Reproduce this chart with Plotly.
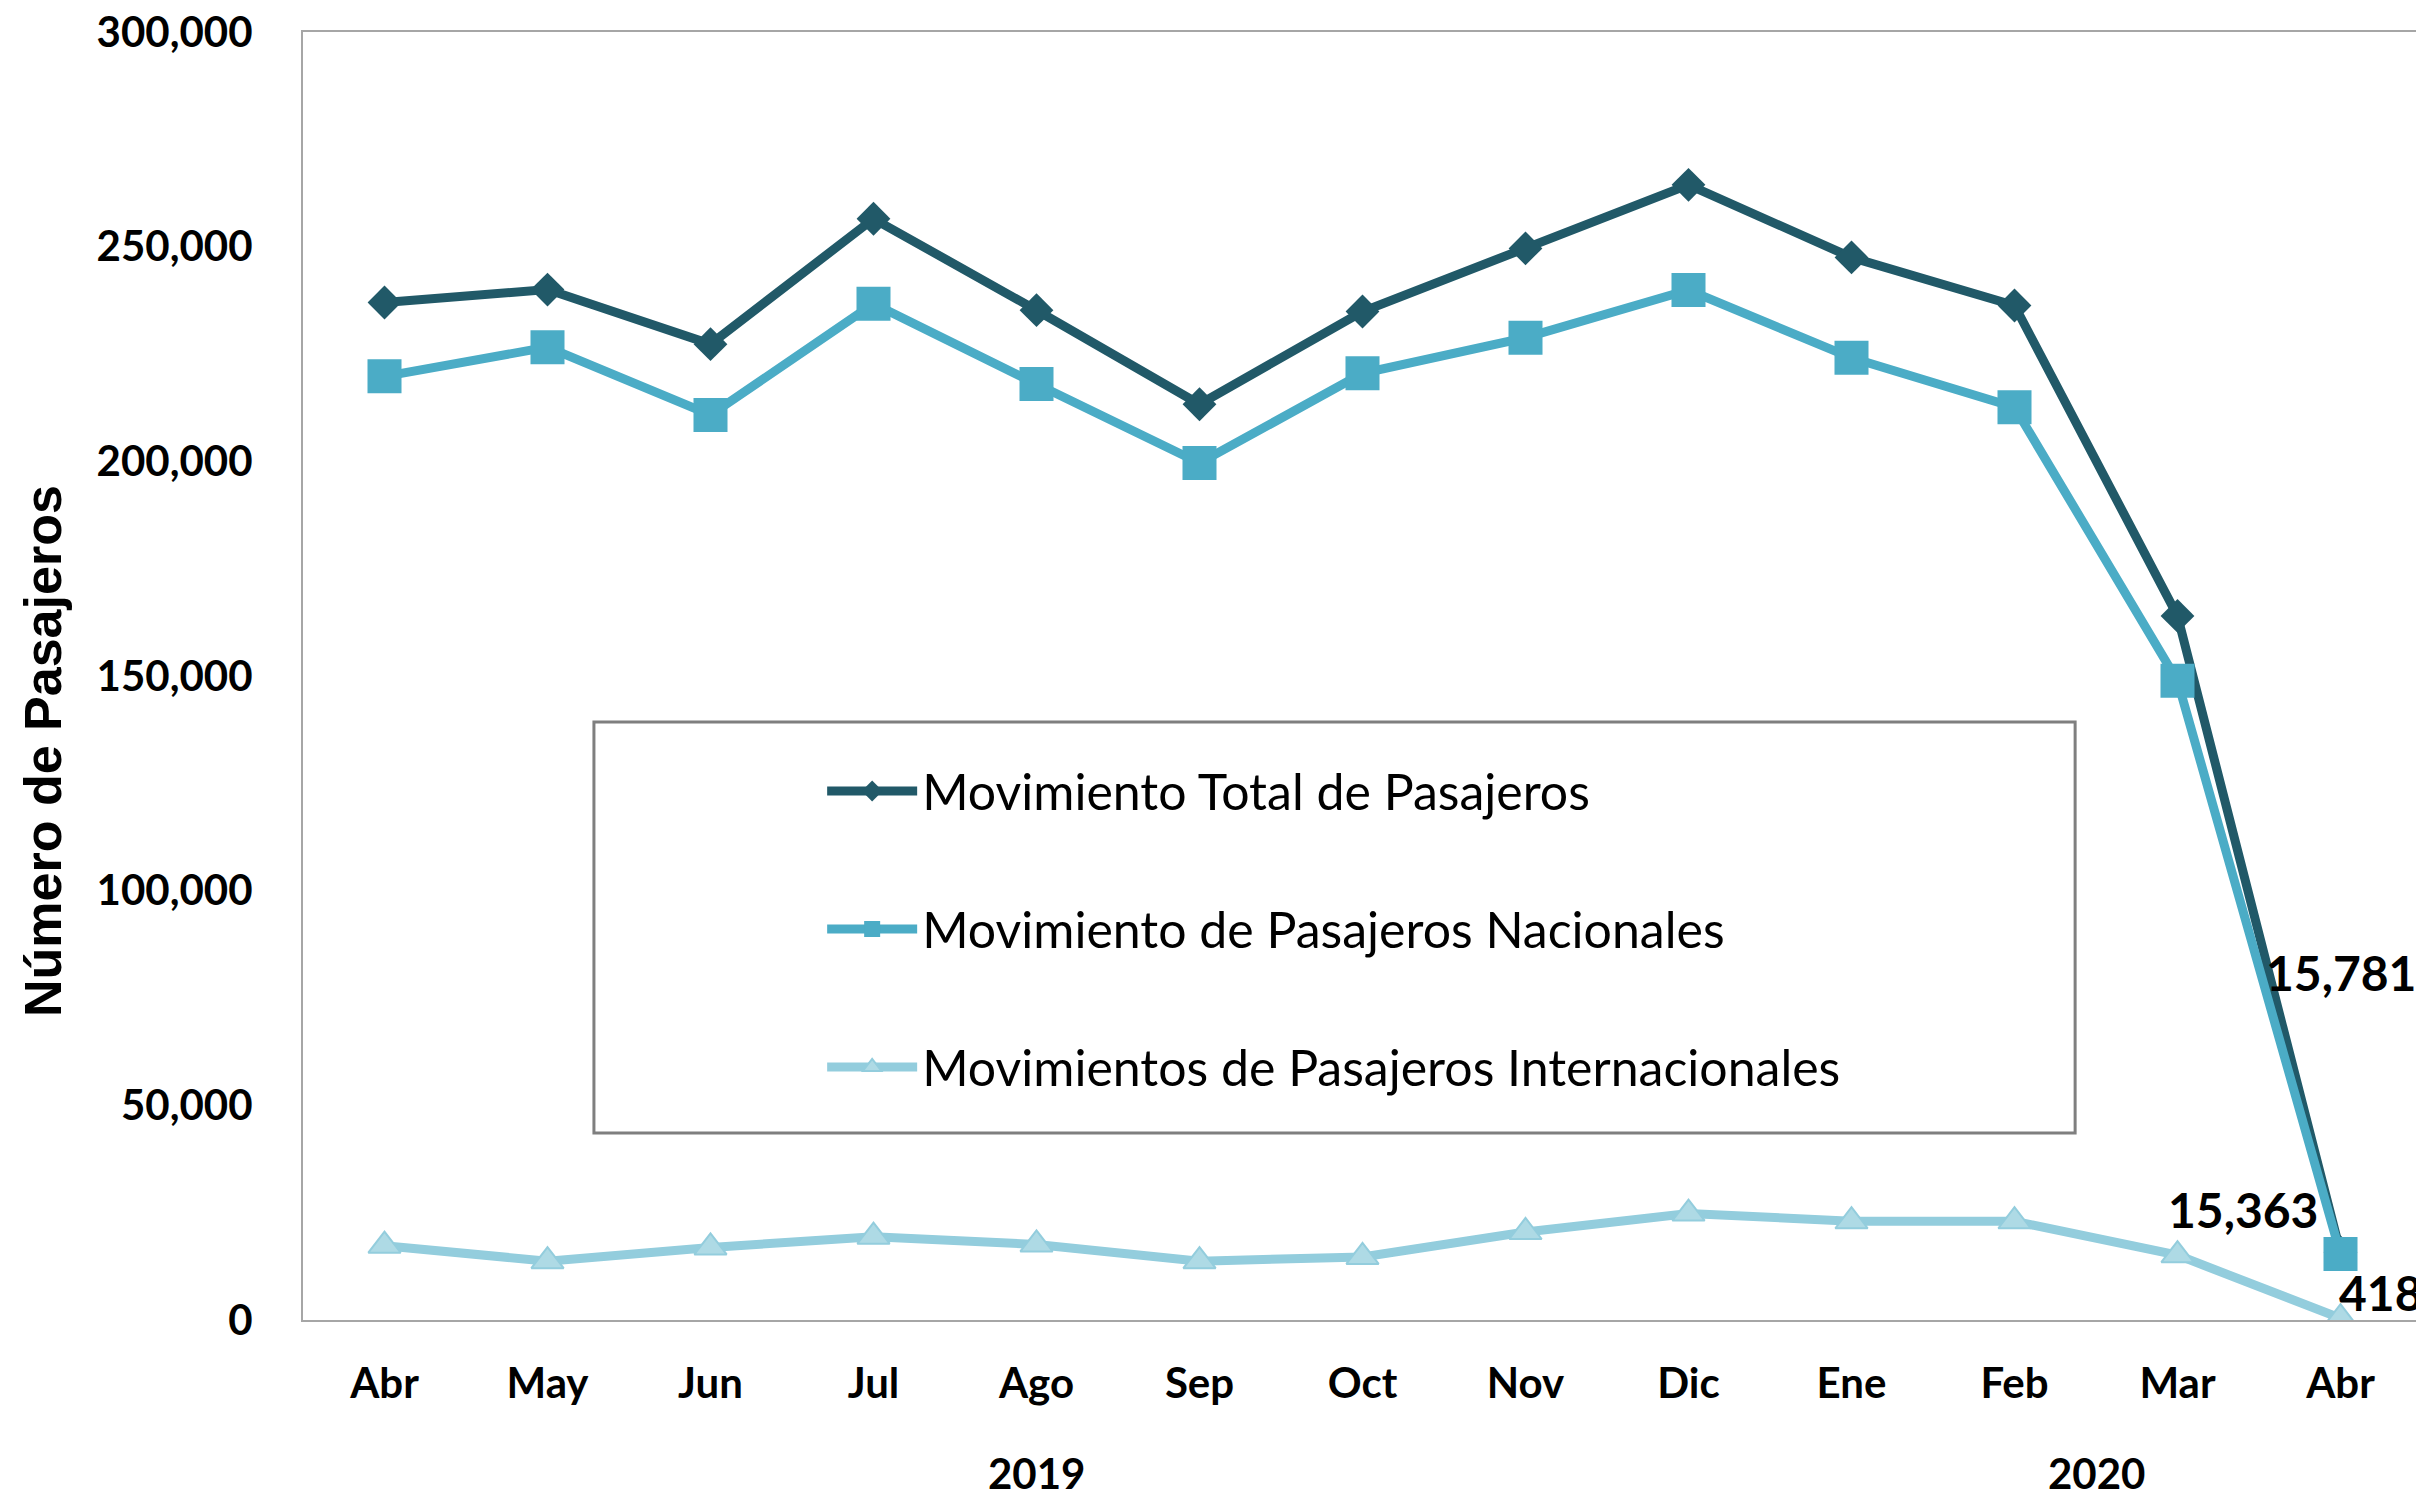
import plotly.graph_objects as go

months = ["Abr", "May", "Jun", "Jul", "Ago", "Sep", "Oct", "Nov", "Dic", "Ene", "Feb", "Mar", "Abr"]
years = ["2019"] * 9 + ["2020"] * 4

total = [237000, 240000, 227300, 256500, 235200, 213300, 234900, 249600, 264400, 247500, 236300, 164000, 15781]
nacional = [219800, 226600, 210800, 236700, 218000, 199600, 220500, 228800, 239900, 224100, 212600, 148900, 15363]
internacional = [17300, 13700, 16900, 19400, 17600, 13700, 14700, 20500, 24800, 23000, 23000, 15100, 418]

names = ["Movimiento Total de Pasajeros",
         "Movimiento de Pasajeros Nacionales",
         "Movimientos de Pasajeros Internacionales"]

y_ticks = [0, 50000, 100000, 150000, 200000, 250000, 300000]

x = list(range(len(months)))

C_TOTAL = "#215968"
C_NAC = "#4BACC6"
C_INT = "#93CDDD"

fig = go.Figure()
fig.add_trace(go.Scatter(
    x=x, y=total, name=names[0], mode="lines+markers", legendgroup="a",
    line=dict(color=C_TOTAL, width=9),
    marker=dict(symbol="diamond", size=26, color=C_TOTAL),
))
fig.add_trace(go.Scatter(
    x=x, y=nacional, name=names[1], mode="lines+markers", legendgroup="b",
    line=dict(color=C_NAC, width=9),
    marker=dict(symbol="square", size=34, color=C_NAC),
))
fig.add_trace(go.Scatter(
    x=x, y=internacional, name=names[2], mode="lines+markers", legendgroup="c",
    line=dict(color=C_INT, width=9),
    marker=dict(symbol="triangle-up", size=28, color="#AEDAE5",
                line=dict(color=C_INT, width=2)),
))

label_font = dict(family="Lato", size=42, color="black", weight="bold")
data_font = dict(family="Lato", size=48, color="black", weight="bold")
last = len(months) - 1
annotations = [
    dict(x=last, y=total[last], xref="x", yref="y", text=f"{total[last]:,}",
         showarrow=False, xshift=0, yshift=280, font=data_font),
    dict(x=last, y=nacional[last], xref="x", yref="y", text=f"{nacional[last]:,}",
         showarrow=False, xshift=-98, yshift=45, font=data_font),
    dict(x=last, y=internacional[last], xref="x", yref="y", text=f"{internacional[last]:,}",
         showarrow=False, xshift=40, yshift=26, font=data_font),
    dict(x=-0.1227, y=0.4418, xref="paper", yref="paper", text="Número de Pasajeros",
         textangle=-90, showarrow=False, xanchor="center", yanchor="middle",
         font=dict(family="Liberation Sans", size=52, color="black", weight="bold")),
]
# year group labels
for yr in ["2019", "2020"]:
    idx = [i for i, v in enumerate(years) if v == yr]
    annotations.append(dict(
        x=sum(idx) / len(idx), y=-0.119, xref="x", yref="paper", text=yr,
        showarrow=False, yanchor="middle", font=label_font))

# page body adds an 8px offset; size the figure so it fills the window exactly
fig.update_layout(
    width=2416, height=1491,
    margin=dict(l=295, r=2, t=24, b=179, autoexpand=False),
    paper_bgcolor="white", plot_bgcolor="white",
    font=dict(family="Lato", color="black"),
    showlegend=True,
    legend=dict(
        x=0.245, y=0.441, xanchor="left", yanchor="top",
        bgcolor="rgba(0,0,0,0)", borderwidth=0,
        font=dict(family="Lato", size=50, color="black"),
        itemwidth=90, tracegroupgap=70, traceorder="grouped",
    ),
    annotations=annotations,
    shapes=[dict(type="rect", xref="paper", yref="paper",
                 x0=0.1373, x1=0.8363, y0=0.1452, y1=0.4643,
                 line=dict(color="#7F7F7F", width=3), fillcolor="white", layer="below")],
)

fig.update_xaxes(
    range=[-0.5, 12.5], tickmode="array", tickvals=x, ticktext=months,
    showgrid=False, zeroline=False, showline=True, linecolor="#A6A6A6", linewidth=2,
    mirror=True, ticks="", ticklabelstandoff=26, automargin=False,
    ticklabeloverflow="allow", tickfont=label_font,
)
fig.update_yaxes(
    range=[0, 300000], tickmode="array", tickvals=y_ticks,
    ticktext=[f"{v:,}" for v in y_ticks],
    showgrid=False, zeroline=False, showline=True, linecolor="#A6A6A6", linewidth=2,
    mirror=True, ticks="", ticklabelstandoff=40, automargin=False,
    ticklabeloverflow="allow", tickfont=label_font,
)

fig.write_html("out.html")
